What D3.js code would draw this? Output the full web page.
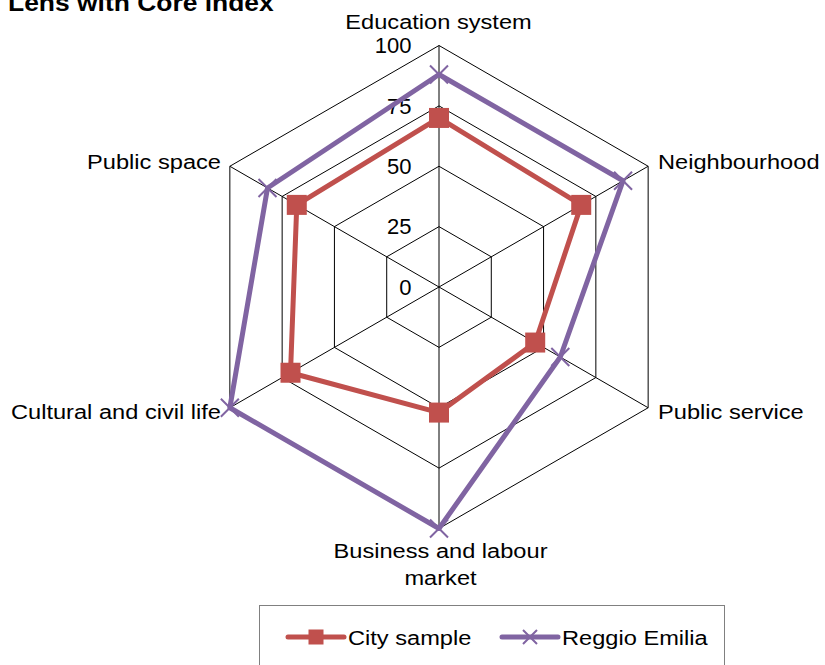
<!DOCTYPE html>
<html><head><meta charset="utf-8">
<script src="https://cdn.jsdelivr.net/npm/d3@7"></script>
<style>body{margin:0;background:#fff}svg{display:block;font-family:"Liberation Sans",Arial,sans-serif}</style>
</head><body>
<svg id="c" width="825" height="665"></svg>
<script>
const categories = ["Education system","Neighbourhood","Public service","Business and labour market","Cultural and civil life","Public space"];
const citySample = [70, 68, 46, 52, 71, 68];
const reggioEmilia = [88, 88, 58, 100, 100, 82];
const tickValues = [0, 25, 50, 75, 100];
const seriesNames = ["City sample", "Reggio Emilia"];

const svg = d3.select("#c");
const cx = 439, cy = 287, R = 241.5;
const SX = 1.125;
const r = d3.scaleLinear().domain([0, 100]).range([0, R]);
const ang = d3.scaleLinear().domain([0, categories.length]).range([0, 2 * Math.PI]);
const pt = (i, v) => [cx + r(v) * Math.sin(ang(i)), cy - r(v) * Math.cos(ang(i))];

function stext(parent, x, y, str, size, anchor, weight) {
  const gg = parent.append("g").attr("transform", `translate(${x},${y}) scale(${SX},1)`);
  return gg.append("text").attr("x", 0).attr("y", 0).attr("text-anchor", anchor || "start")
    .attr("font-size", size).attr("font-weight", weight || "normal").text(str);
}

stext(svg, 8, 11, "Lens with Core index", 23.5, "start", "bold");

const g = svg.append("g");
tickValues.slice(1).forEach(t => {
  g.append("polygon").attr("points", categories.map((c, i) => pt(i, t).join(",")).join(" "))
    .attr("fill", "none").attr("stroke", "#000").attr("stroke-width", 1);
});
categories.forEach((c, i) => {
  const p = pt(i, 100);
  g.append("line").attr("x1", cx).attr("y1", cy).attr("x2", p[0]).attr("y2", p[1]).attr("stroke", "#000").attr("stroke-width", 1);
});
tickValues.forEach(t => {
  svg.append("text").attr("x", 411.5).attr("y", cy - r(t)).attr("dy", "0.35em").attr("text-anchor", "end")
    .attr("font-size", 22).text(t);
});
const labelPos = [
  {x: 438.5, y: 29.3, a: "middle"},
  {x: 658, y: 168.5, a: "start"},
  {x: 658, y: 419.3, a: "start"},
  {x: 440.5, y: 558.3, a: "middle"},
  {x: 221, y: 419.3, a: "end"},
  {x: 221, y: 168.5, a: "end"}
];
categories.forEach((c, i) => {
  const lp = labelPos[i];
  if (c === "Business and labour market") {
    stext(svg, lp.x, lp.y, "Business and labour", 21, lp.a);
    stext(svg, lp.x, lp.y + 26.7, "market", 21, lp.a);
  } else stext(svg, lp.x, lp.y, c, 21, lp.a);
});

const line = d3.line().curve(d3.curveLinearClosed);
const colors = ["#C0504D", "#8064A2"];
const data = [citySample, reggioEmilia];
data.forEach((vals, s) => {
  const pts = vals.map((v, i) => pt(i, v));
  svg.append("path").attr("d", line(pts)).attr("fill", "none").attr("stroke", colors[s])
    .attr("stroke-width", 5).attr("stroke-linejoin", "round");
});
function square(gg, x, y, size, col) {
  gg.append("rect").attr("x", x - size / 2).attr("y", y - size / 2).attr("width", size).attr("height", size).attr("fill", col);
}
function cross(gg, x, y, size, col) {
  const h = size / 2;
  gg.append("path").attr("d", `M${x-h},${y-h}L${x+h},${y+h}M${x-h},${y+h}L${x+h},${y-h}`).attr("stroke", col).attr("stroke-width", 2);
}
citySample.forEach((v, i) => { const p = pt(i, v); square(svg, p[0], p[1], 20, colors[0]); });
reggioEmilia.forEach((v, i) => { const p = pt(i, v); cross(svg, p[0], p[1], 18, colors[1]); });

const lg = svg.append("g");
lg.append("rect").attr("x", 259.5).attr("y", 605.5).attr("width", 465).attr("height", 80).attr("fill", "#fff").attr("stroke", "#808080");
const legX = [288, 502];
seriesNames.forEach((n, s) => {
  const x0 = legX[s];
  lg.append("line").attr("x1", x0).attr("x2", x0 + 56).attr("y1", 637).attr("y2", 637).attr("stroke", colors[s]).attr("stroke-width", 5).attr("stroke-linecap", "round");
  if (s === 0) square(lg, x0 + 28, 637, 15, colors[0]); else cross(lg, x0 + 28, 637, 14, colors[1]);
  stext(lg, x0 + 60, 644.5, n, 21, "start");
});
</script>
</body></html>
